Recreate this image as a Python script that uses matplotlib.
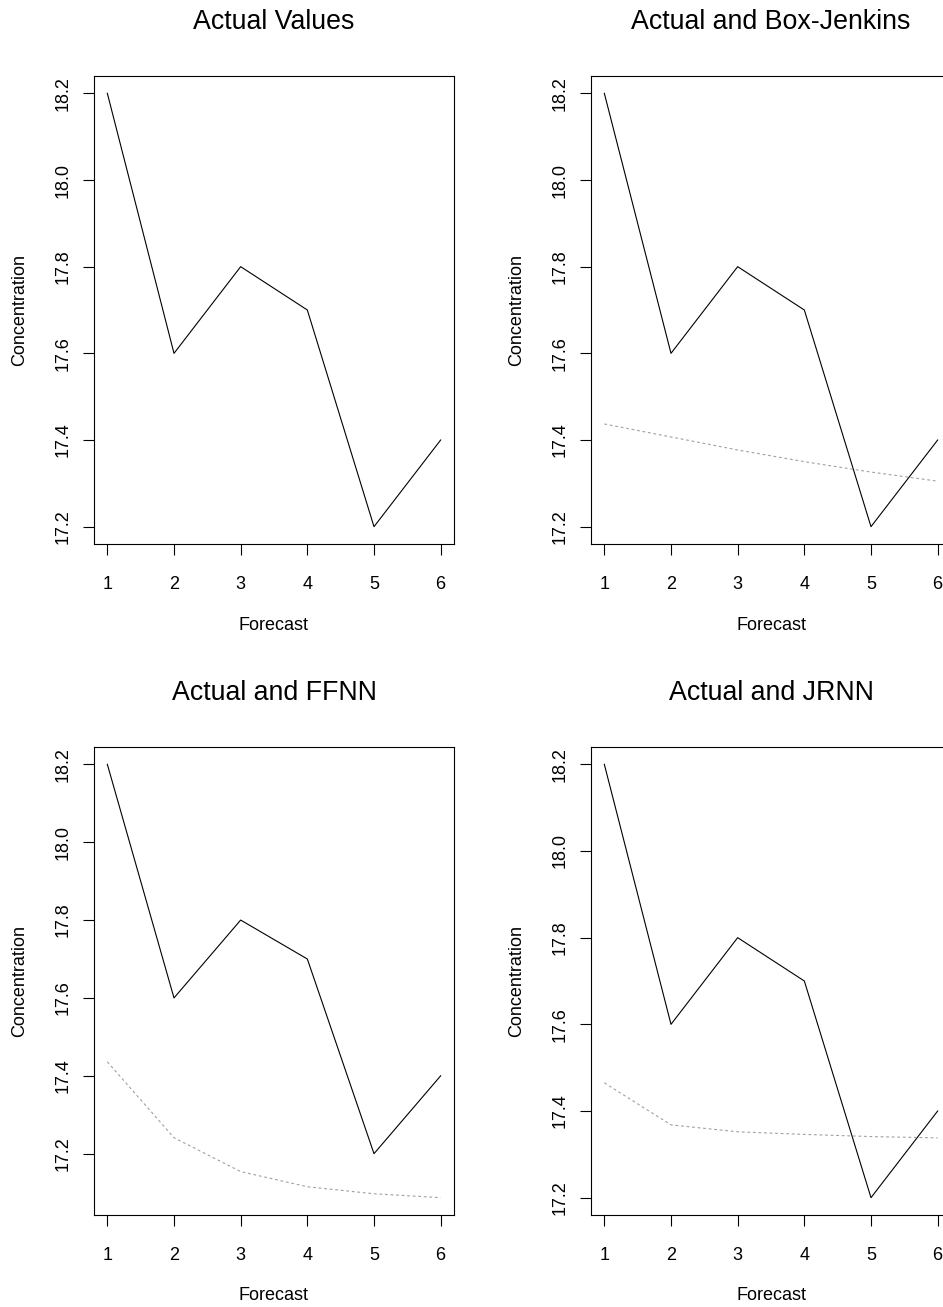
#!/usr/bin/env python3

import matplotlib
matplotlib.use("Agg")
from matplotlib import pyplot as plt
from matplotlib.ticker import FormatStrFormatter

plt.rcParams["font.family"] = ["Liberation Sans", "DejaVu Sans"]

# Forecast steps and observed concentration
forecast = [1, 2, 3, 4, 5, 6]
actual = [18.2, 17.6, 17.8, 17.7, 17.2, 17.4]

# Model forecasts
box_jenkins = [17.437, 17.407, 17.377, 17.350, 17.326, 17.305]
ffnn = [17.436, 17.241, 17.154, 17.115, 17.097, 17.087]
jrnn = [17.465, 17.368, 17.352, 17.346, 17.341, 17.338]

titles = ["Actual Values", "Actual and Box-Jenkins",
          "Actual and FFNN", "Actual and JRNN"]
models = [None, box_jenkins, ffnn, jrnn]
yticks = [17.2, 17.4, 17.6, 17.8, 18.0, 18.2]

W, H = 943, 1307
fig = plt.figure(figsize=(W / 100, H / 100), dpi=100)

# axes boxes in pixels: left, top
boxes = [(94, 76), (591, 76), (94, 747), (591, 747)]
bw, bh = 360, 468

for i, (left, top) in enumerate(boxes):
    ax = fig.add_axes([left / W, (H - top - bh) / H, bw / W, bh / H])

    ax.plot(forecast, actual, color="black", lw=0.8)
    vals = list(actual)
    if models[i] is not None:
        ax.plot(forecast, models[i], color="#a0a0a0", lw=0.8,
                linestyle=(0, (2.5, 2.5)))
        vals += models[i]

    # R style 4% extension of the data range
    lo, hi = min(vals), max(vals)
    ax.set_ylim(lo - 0.04 * (hi - lo), hi + 0.04 * (hi - lo))
    ax.set_xlim(0.8, 6.2)

    ax.set_xticks(forecast)
    ax.set_yticks(yticks)
    ax.yaxis.set_major_formatter(FormatStrFormatter("%.1f"))
    ax.tick_params(axis="both", direction="out", length=8, width=0.8,
                   labelsize=13, colors="black")
    ax.tick_params(axis="x", pad=15)
    ax.tick_params(axis="y", pad=8)
    for lab in ax.get_yticklabels():
        lab.set_rotation(90)
        lab.set_va("center")

    for s in ax.spines.values():
        s.set_linewidth(0.8)
        s.set_color("black")

    ax.set_xlabel("Forecast", fontsize=13)
    ax.xaxis.set_label_coords(0.5, (544 - 625) / bh)
    ax.xaxis.label.set_va("center")
    ax.set_ylabel("Concentration", fontsize=13)
    ax.yaxis.set_label_coords((20 - 94) / bw, 0.5)
    ax.yaxis.label.set_va("center")

    ax.text(0.5, 1 + 47 / bh, titles[i], transform=ax.transAxes,
            ha="center", va="baseline", fontsize=19.3)

fig.savefig("out.png", dpi=100)
